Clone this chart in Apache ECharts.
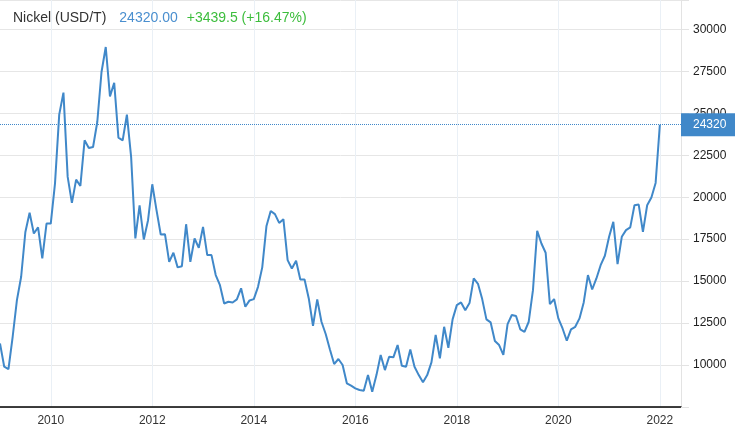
<!DOCTYPE html>
<html lang="en">

<head>
    <meta charset="UTF-8">
    <title>Nickel</title>
    <script src="https://cdn.jsdelivr.net/npm/echarts@6/dist/echarts.min.js"></script>
    <style>
        body { margin: 0; background: #fff; }
        #main { width: 735px; height: 430px; }
    </style>
</head>

<body>
    <div id="main"></div>
    <script>
        // monthly closes (USD/T)
        var v2009 = [11290, 9900, 9760, 11700, 13870, 15260, 17930, 19070, 17840, 18200, 16350, 18430];
        var v2010 = [18430, 20810, 24920, 26230, 21210, 19660, 21050, 20670, 23390, 22930, 22990, 24480];
        var v2011 = [27460, 28950, 26010, 26820, 23550, 23390, 24920, 22400, 17540, 19520, 17480, 18630];
        var v2012 = [20770, 19230, 17780, 17800, 16150, 16690, 15820, 15890, 18390, 16150, 17540, 16980];
        var v2013 = [18230, 16550, 16550, 15360, 14760, 13670, 13770, 13730, 13910, 14570, 13470, 13850];
        var v2014 = [13930, 14660, 15820, 18290, 19180, 18990, 18470, 18690, 16250, 15750, 16210, 15100];
        var v2015 = [15100, 13970, 12340, 13910, 12580, 11850, 10930, 10060, 10360, 10000, 8910, 8770];
        var v2016 = [8610, 8510, 8470, 9400, 8410, 9400, 10600, 9700, 10490, 10460, 11190, 9960];
        var v2017 = [9900, 10930, 9900, 9400, 8970, 9400, 10160, 11790, 10400, 12280, 11030, 12720];
        var v2018 = [13570, 13730, 13270, 13690, 15160, 14840, 13930, 12720, 12540, 11430, 11190, 10600];
        var v2019 = [12440, 12980, 12920, 12130, 11980, 12580, 14460, 17990, 17240, 16690, 13630, 13930];
        var v2020 = [12780, 12180, 11450, 12130, 12280, 12780, 13730, 15360, 14500, 15160, 15950, 16510];
        var v2021 = [17640, 18530, 16010, 17640, 18040, 18200, 19520, 19560, 17930, 19520, 19980, 20850];
        var v2022 = [24320];

        var prices = [].concat(v2009, v2010, v2011, v2012, v2013, v2014, v2015,
            v2016, v2017, v2018, v2019, v2020, v2021, v2022);
        var lastPrice = 24320;

        // month axis runs Jan 2009 .. Jun 2022
        var months = [];
        for (var y = 2009; y <= 2022; y++) {
            for (var m = 1; m <= 12; m++) {
                if (y === 2022 && m > 6) break;
                months.push(y + '-' + (m < 10 ? '0' + m : m));
            }
        }
        // labels + vertical lines only on january of even years
        function evenJan(idx) {
            return idx % 24 === 12;
        }

        var blue = '#4088c9';
        var font = 'Arial, "Liberation Sans", sans-serif';
        var myChart = echarts.init(document.getElementById('main'));
        var option = {
            animation: false,
            textStyle: { fontFamily: font },
            title: {
                left: 8,
                top: 6,
                text: '{a|Nickel (USD/T)}{b|24320.00}{c|+3439.5 (+16.47%)}',
                textStyle: {
                    fontWeight: 'normal',
                    rich: {
                        a: { fontSize: 14, color: '#333', fontWeight: 'normal', padding: [0, 13, 0, 0], fontFamily: font },
                        b: { fontSize: 14, color: '#4a8fcf', fontWeight: 'normal', padding: [0, 9, 0, 0], fontFamily: font },
                        c: { fontSize: 14, color: '#3dbd3d', fontWeight: 'normal', fontFamily: font }
                    }
                }
            },
            grid: { left: 0, right: 54, top: 0, bottom: 23 },
            xAxis: {
                type: 'category',
                data: months,
                boundaryGap: false,
                axisLine: { lineStyle: { color: '#000', width: 1.5 } },
                axisTick: { show: false },
                axisLabel: {
                    interval: evenJan,
                    color: '#333',
                    fontSize: 12,
                    margin: 8,
                    formatter: function (v) { return v.slice(0, 4); }
                },
                splitLine: {
                    show: true,
                    interval: evenJan,
                    lineStyle: { color: '#eaf0f6' }
                }
            },
            yAxis: {
                type: 'value',
                position: 'right',
                min: 7500,
                max: 31750,
                interval: 2500,
                axisLine: { show: true, lineStyle: { color: '#e3e3e3' } },
                axisTick: { show: true, length: 8, lineStyle: { color: '#e3e3e3' } },
                axisLabel: {
                    color: '#222',
                    fontSize: 12,
                    margin: 12,
                    formatter: function (v) {
                        return (v >= 10000 && v <= 30000) ? String(v) : '';
                    }
                },
                splitLine: { lineStyle: { color: '#e6e6e6' } }
            },
            series: [{
                name: 'Nickel',
                type: 'line',
                data: prices,
                symbol: 'none',
                lineStyle: { color: blue, width: 2 },
                markLine: {
                    silent: true,
                    symbol: 'none',
                    lineStyle: { color: blue, type: 'dotted', width: 1 },
                    label: {
                        position: 'end',
                        distance: 0,
                        color: '#fff',
                        fontSize: 12,
                        backgroundColor: blue,
                        padding: [6, 14, 5, 12],
                        formatter: String(lastPrice)
                    },
                    data: [{ yAxis: lastPrice }]
                }
            }]
        };
        myChart.setOption(option);
    </script>
</body>

</html>
